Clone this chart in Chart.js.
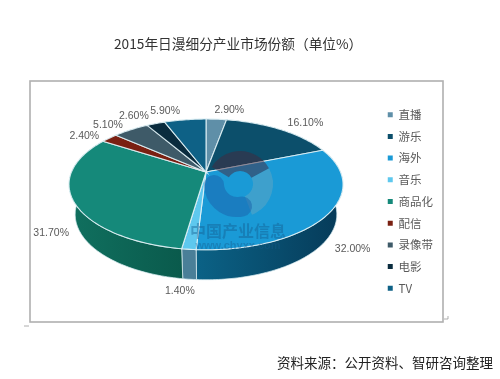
<!DOCTYPE html>
<html lang="zh">
<head>
<meta charset="utf-8">
<title>2015年日漫细分产业市场份额</title>
<script src="https://cdn.jsdelivr.net/npm/chart.js@4"></script>
<style>
  html, body { margin: 0; padding: 0; background: #fff; }
  #wrap { position: relative; width: 500px; height: 379px; overflow: hidden; font-family: "Noto Sans CJK SC", sans-serif; color: #333; filter: blur(0.45px); }
  #wrap canvas { position: absolute; left: 0; top: 0; }
  #title { position: absolute; left: 114px; top: 33px; font-size: 13.7px; line-height: 20px; white-space: nowrap; }
  #source { position: absolute; left: 277px; top: 352px; font-size: 13.5px; line-height: 20px; white-space: nowrap; color: #222; }
</style>
</head>
<body>
<div id="wrap">
  <canvas id="pie" width="500" height="379"></canvas>
  <div id="title">2015年日漫细分产业市场份额（单位%）</div>
  <div id="source">资料来源：公开资料、智研咨询整理</div>
</div>
<script>
const categories = ['直播', '游乐', '海外', '音乐', '商品化', '配信', '录像带', '电影', 'TV'];
const shares = [2.9, 16.1, 32.0, 1.4, 31.7, 2.4, 5.1, 2.6, 5.9];
const shareLabels = ['2.90%', '16.10%', '32.00%', '1.40%', '31.70%', '2.40%', '5.10%', '2.60%', '5.90%'];
const topColors = ['#5f8fa8', '#0c4f6b', '#1a9ad6', '#5ec8ee', '#15897a', '#7a2012', '#3e5a68', '#0a2c3e', '#0e6186'];
const wallLeft = ['#4a7f98', '#0c4f6b', '#0b6286', '#4a7f98', '#10705f', '#5a160c', '#2e4652', '#08222f', '#0b5272'];
const wallRight = ['#4a7f98', '#0c4f6b', '#063a58', '#4a7f98', '#0a5a4c', '#5a160c', '#2e4652', '#08222f', '#0b5272'];
const labelNudge = [[13, -9], [25, -6], [24, 36], [-9, 42], [-22, 33], [-25, -2], [-23, -5], [-22, -7], [-20, -9]];

// perspective of the pie: a circle seen from above, the far side is smaller
const apexX = 206, apexY = 172, radiusX = 134.5, radiusY = 63, tilt = 0.19;
const wallDepth = 30, bottomShrink = 0.955;

const project = (theta, r = 1) => {
  const s = Math.sin(theta) * r, c = Math.cos(theta) * r;
  const w = 1 + tilt * c;
  return { x: radiusX * s / w, y: radiusY * c / w };
};

const rimPoints = (arc) => {
  const a0 = arc.startAngle + Math.PI / 2, a1 = arc.endAngle + Math.PI / 2;
  const steps = Math.max(2, Math.ceil((a1 - a0) / 0.02));
  const pts = [];
  for (let i = 0; i <= steps; i++) pts.push(project(a0 + (a1 - a0) * i / steps));
  return pts;
};

const pie3d = {
  id: 'pie3d',
  beforeDraw(chart) {
    const ctx = chart.ctx;
    ctx.save();
    ctx.strokeStyle = '#b0b0b0';
    ctx.lineWidth = 1.6;
    ctx.strokeRect(30, 81, 413, 241);
    // stray marks next to the frame in the scan
    ctx.lineWidth = 0.8;
    ctx.strokeStyle = '#999';
    ctx.beginPath();
    ctx.moveTo(24, 326);
    ctx.lineTo(29, 326);
    ctx.moveTo(448, 316);
    ctx.lineTo(448, 319);
    ctx.lineTo(444, 319);
    ctx.stroke();
    ctx.restore();
  },
  beforeDatasetDraw(chart, args) {
    const ctx = chart.ctx;
    const arcs = args.meta.data;

    // side walls first, the top face covers the far ones
    arcs.forEach((arc, i) => {
      const pts = rimPoints(arc);
      ctx.beginPath();
      pts.forEach((p, k) => {
        const px = apexX + p.x, py = apexY - p.y;
        k === 0 ? ctx.moveTo(px, py) : ctx.lineTo(px, py);
      });
      pts.slice().reverse().forEach((p) => {
        ctx.lineTo(apexX + p.x * bottomShrink, apexY - p.y + wallDepth);
      });
      ctx.closePath();
      const xs = pts.map((p) => apexX + p.x);
      const g = ctx.createLinearGradient(Math.min(...xs), 0, Math.max(...xs), 0);
      g.addColorStop(0, wallLeft[i]);
      g.addColorStop(1, wallRight[i]);
      ctx.fillStyle = g;
      ctx.fill();
      ctx.strokeStyle = 'rgba(215,235,240,0.75)';
      ctx.lineWidth = 1;
      ctx.stroke();
    });

    // top face
    arcs.forEach((arc, i) => {
      ctx.beginPath();
      ctx.moveTo(apexX, apexY);
      rimPoints(arc).forEach((p) => ctx.lineTo(apexX + p.x, apexY - p.y));
      ctx.closePath();
      ctx.fillStyle = topColors[i];
      ctx.fill();
      ctx.strokeStyle = 'rgba(225,242,246,0.9)';
      ctx.lineWidth = 1.1;
      ctx.stroke();
    });

    // value labels
    ctx.font = '10.5px "Liberation Sans", Arial, sans-serif';
    ctx.fillStyle = '#5a5a5a';
    ctx.textAlign = 'center';
    ctx.textBaseline = 'middle';
    arcs.forEach((arc, i) => {
      const mid = (arc.startAngle + arc.endAngle) / 2 + Math.PI / 2;
      const p = project(mid);
      ctx.fillText(shareLabels[i], apexX + p.x + labelNudge[i][0], apexY - p.y + labelNudge[i][1]);
    });
    return false;
  },
  afterDatasetsDraw(chart) {
    // chyxx watermark over the pie
    const ctx = chart.ctx;
    const wx = 240, wy = 184;
    ctx.save();
    ctx.lineWidth = 20;
    ctx.lineCap = 'butt';
    ctx.strokeStyle = 'rgba(120,170,190,0.38)';
    ctx.beginPath();
    ctx.arc(wx, wy, 23, -0.5, 1.2);
    ctx.stroke();
    ctx.strokeStyle = 'rgba(70,40,60,0.5)';
    ctx.beginPath();
    ctx.arc(wx, wy, 23, -2.6, -0.5);
    ctx.stroke();
    ctx.lineCap = 'round';
    ctx.strokeStyle = 'rgba(25,95,170,0.5)';
    ctx.beginPath();
    ctx.arc(wx - 3, wy, 23, 1.35, 3.1);
    ctx.stroke();
    ctx.textAlign = 'center';
    ctx.textBaseline = 'middle';
    ctx.font = 'bold 16px "Noto Sans CJK SC", sans-serif';
    ctx.fillStyle = 'rgba(20,90,140,0.42)';
    ctx.fillText('中国产业信息', 238, 231);
    ctx.font = 'bold 11px "Liberation Sans", sans-serif';
    ctx.fillStyle = 'rgba(20,90,140,0.38)';
    ctx.fillText('www.chyxx.com', 238, 246);
    ctx.restore();
  }
};

new Chart(document.getElementById('pie'), {
  type: 'pie',
  data: {
    labels: categories,
    datasets: [{ data: shares, backgroundColor: topColors, borderWidth: 0 }]
  },
  options: {
    responsive: false,
    animation: false,
    layout: { padding: { top: 6, bottom: -18, right: 57 } },
    plugins: {
      tooltip: { enabled: false },
      legend: {
        position: 'right',
        labels: {
          boxWidth: 5,
          boxHeight: 5,
          padding: 10.2,
          color: '#5a5a5a',
          font: { family: '"Noto Sans CJK SC", sans-serif', size: 11.5 }
        }
      }
    }
  },
  plugins: [pie3d]
});
</script>
</body>
</html>
